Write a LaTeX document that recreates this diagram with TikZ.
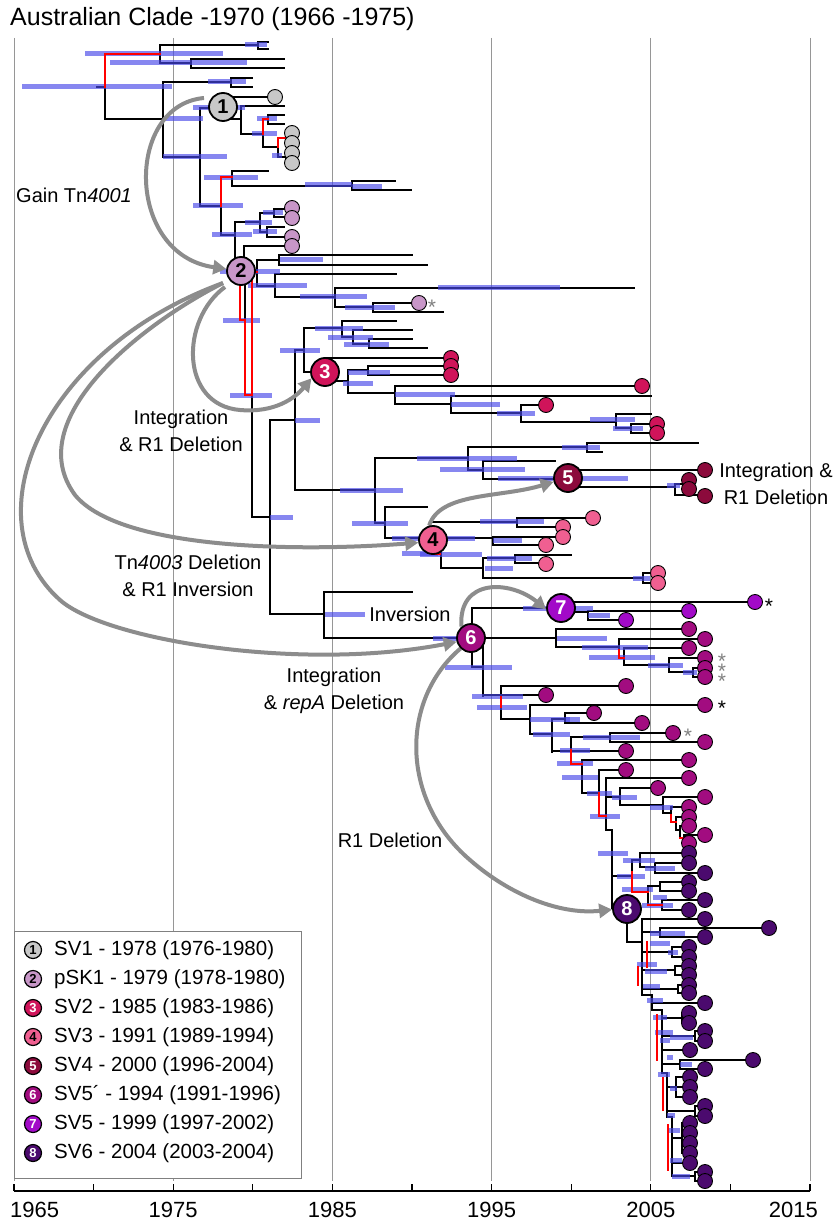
\documentclass[tikz,border=0pt]{standalone}
\usepackage{fontspec}
\setmainfont{Liberation Sans}
\usetikzlibrary{arrows.meta}
\definecolor{hpdblue}{RGB}{71,71,232}
\definecolor{gridgray}{RGB}{150,150,150}
\definecolor{arrgray}{RGB}{140,140,140}
\definecolor{cSVone}{RGB}{200,200,200}
\definecolor{cpSK}{RGB}{200,150,200}
\definecolor{cSVtwo}{RGB}{208,20,90}
\definecolor{cSVthree}{RGB}{240,95,145}
\definecolor{cSVfour}{RGB}{140,10,60}
\definecolor{cSVfivep}{RGB}{162,12,128}
\definecolor{cSVfive}{RGB}{162,10,200}
\definecolor{cSVsix}{RGB}{75,10,110}
\pgfdeclarelayer{grid}\pgfdeclarelayer{tree}\pgfdeclarelayer{arrows}
\pgfsetlayers{grid,tree,arrows,main}
\makeatletter
\def\LinesAcc{}\def\BarsAcc{}\def\RedsAcc{}
\newcommand{\Hb}[3]{\g@addto@macro\LinesAcc{\draw[br] (#1,#3) -- (#2,#3);}}
\newcommand{\Vb}[3]{\g@addto@macro\LinesAcc{\draw[br] (#1,#2) -- (#1,#3);}}
\newcommand{\Hr}[3]{\g@addto@macro\RedsAcc{\draw[rbr] (#1,#3) -- (#2,#3);}}
\newcommand{\Vr}[3]{\g@addto@macro\RedsAcc{\draw[rbr] (#1,#2) -- (#1,#3);}}
\newcommand{\Bb}[3]{\g@addto@macro\BarsAcc{\draw[hpd] (#1,#3) -- (#2,#3);}}
\makeatother
\newcommand{\Lf}[3]{\node[leaf,fill=#3] at (#1,#2) {};}
\newcommand{\Ast}[3]{\node[astk,text=#3] at (#1,#2+10) {*};}
\begin{document}
\begin{tikzpicture}[x=1pt,y=-1pt,
  br/.style={line width=1.8pt, black, line cap=rect},
  rbr/.style={line width=1.8pt, red, line cap=rect},
  hpd/.style={line width=5pt, color=hpdblue, opacity=0.65},
  leaf/.style={circle, draw=black, line width=0.9pt, minimum size=15pt, inner sep=0pt},
  num/.style={circle, draw=black, line width=1.8pt, minimum size=28pt, inner sep=0pt, font=\fontsize{20}{20}\selectfont\bfseries},
  lnum/.style={circle, draw=black, line width=1.2pt, minimum size=17pt, inner sep=0pt, font=\fontsize{13}{13}\selectfont\bfseries},
  arr/.style={draw=arrgray, line width=4pt, -{Triangle[length=13pt,width=14pt]}},
  lbl/.style={font=\fontsize{20}{27}\selectfont, align=center, inner sep=0pt},
  astk/.style={font=\fontsize{21}{21}\selectfont, anchor=base, inner sep=0pt},
  gridln/.style={gridgray, line width=0.9pt},
  legtxt/.style={font=\fontsize{20.5}{24}\selectfont, anchor=west, inner sep=0pt},
  axlbl/.style={font=\fontsize{22}{22}\selectfont, inner sep=0pt}
]
\useasboundingbox (0,0) rectangle (836,1222);
\begin{pgfonlayer}{grid}
\fill[white] (0,0) rectangle (836,1222);
\foreach \k in {0,...,5} \draw[gridln] ({14+159.2*\k},38) -- ({14+159.2*\k},1181);
\end{pgfonlayer}
% title
\node[anchor=west, font=\fontsize{25}{25}\selectfont, inner sep=0pt] (title) at (10,19) {Australian Clade -1970 (1966 -1975)};
% axis
\draw[line width=1.3pt] (14,1191) -- (810,1191);
\foreach \k in {0,...,10} \draw[line width=1.3pt] ({14+79.6*\k},1191) -- ({14+79.6*\k},1184);
\node[axlbl, anchor=west] (ax0) at (10,1210) {1965};
\node[axlbl] (ax1) at (173.2,1210) {1975};
\node[axlbl] (ax2) at (332.4,1210) {1985};
\node[axlbl] (ax3) at (491.6,1210) {1995};
\node[axlbl] (ax4) at (650.8,1210) {2005};
\node[axlbl, anchor=east] (ax5) at (818,1210) {2015};

% ===== TOP =====
\Hb{97}{105}{87}
\Vr{105}{54}{87} \Vb{105}{87}{119}
\Hr{105}{160}{54}
\Vb{160}{45}{63}
\Hb{160}{258}{45} \Vb{258}{42}{49} \Hb{258}{268}{42} \Hb{258}{268}{49}
\Hb{160}{191}{63} \Vb{191}{59}{68} \Hb{191}{284}{59} \Hb{191}{284}{68}
\Hb{105}{163}{119}
\Vb{163}{82}{157}
\Hb{163}{231}{82} \Vb{231}{78}{87} \Hb{231}{252}{78} \Hb{231}{252}{87}
\Hb{163}{200}{157}
\Vb{200}{108}{206}
\Hb{200}{224}{108}
\Vb{224}{97}{119}
\Hb{224}{275}{97}
\Hb{224}{241}{119}
\Vb{241}{106}{134}
\Hb{241}{284}{106}
\Hb{241}{263}{134}
\Vr{263}{119}{134} \Vb{263}{134}{147}
\Hr{263}{268}{119} \Vb{268}{115}{124} \Hb{268}{284}{115} \Hb{268}{284}{124}
\Hb{263}{278}{147}
\Vr{278}{138}{147} \Vb{278}{147}{157}
\Hr{278}{286}{138} \Vb{286}{133}{143} \Hb{286}{292}{133} \Hb{286}{292}{143}
\Hb{278}{286}{157} \Vb{286}{153}{163} \Hb{286}{292}{153} \Hb{286}{292}{163}
\Hb{200}{221}{206}
\Vr{221}{177}{206} \Vb{221}{206}{235}
\Hr{221}{232}{177}
\Vb{232}{171}{186} \Hb{232}{268}{171} \Hb{232}{352}{186}
\Vb{352}{181}{190} \Hb{352}{395}{181} \Hb{352}{411}{190}
\Hb{221}{235}{235}
\Bb{22}{172}{87} \Bb{85}{223}{54} \Bb{110}{247}{63} \Bb{245}{267}{45}
\Bb{165}{203}{119} \Bb{208}{246}{82} \Bb{163}{227}{157} \Bb{193}{245}{108}
\Bb{257}{277}{119} \Bb{252}{277}{134} \Bb{272}{282}{156} \Bb{193}{243}{206}
\Bb{204}{258}{178} \Bb{305}{352}{185} \Bb{352}{382}{187} \Bb{212}{252}{235}

% ===== NODE 2 =====
\Vb{235}{222}{262}
\Hb{235}{260}{222}
\Vb{260}{213}{232}
\Hb{260}{274}{213} \Vb{274}{209}{217} \Hb{274}{292}{209} \Hb{274}{292}{217}
\Hb{260}{267}{232} \Vb{267}{227}{237} \Hb{267}{284}{227} \Hb{267}{292}{237}
\Vb{244}{246}{262} \Hb{244}{292}{246}
\Hb{241}{257}{272}
\Vb{257}{260}{286}
\Hb{257}{279}{260} \Vb{279}{255}{265} \Hb{279}{412}{255} \Hb{279}{427}{265}
\Hb{257}{275}{286} \Vb{275}{274}{297} \Hb{275}{396}{274} \Hb{275}{335}{297}
\Vb{335}{288}{307} \Hb{335}{634}{288} \Hb{335}{373}{307}
\Vb{373}{303}{312} \Hb{373}{419}{303} \Hb{373}{443}{312}
\Vb{245}{284}{320}
\Vr{240}{284}{320} \Hr{240}{245}{320} \Vr{245}{320}{395} \Hr{245}{252}{395} \Vr{252}{272}{395} \Hr{252}{257}{272}
\Vb{252}{395}{517} \Hb{252}{270}{517}
\Bb{263}{283}{213} \Bb{245}{272}{223} \Bb{253}{277}{232} \Bb{280}{323}{260}
\Bb{248}{307}{286} \Bb{220}{280}{272} \Bb{438}{560}{288} \Bb{300}{367}{297}
\Bb{345}{395}{307} \Bb{223}{260}{320} \Bb{230}{272}{395} \Bb{270}{293}{517}

% ===== MIDDLE / NODE 3 =====
\Vb{270}{420}{614} \Hb{270}{295}{420}
\Vb{295}{350}{490} \Hb{295}{304}{350}
\Vb{304}{328}{372} \Hb{304}{342}{328}
\Vb{342}{321}{337} \Hb{342}{396}{321} \Hb{342}{353}{337}
\Vb{353}{330}{344} \Hb{353}{412}{330} \Hb{353}{369}{344}
\Vb{369}{339}{348} \Hb{369}{412}{339} \Hb{369}{427}{348}
\Hb{304}{326}{372}
\Hb{326}{451}{358}
\Hb{326}{348}{381} \Vb{348}{370}{393}
\Hb{348}{368}{370} \Vb{368}{366}{375} \Hb{368}{451}{366} \Hb{368}{451}{375}
\Hb{348}{395}{393} \Vb{395}{386}{404} \Hb{395}{642}{386}
\Hb{395}{451}{404} \Vb{451}{396}{413} \Hb{451}{651}{396}
\Hb{451}{521}{413} \Vb{521}{405}{422} \Hb{521}{546}{405}
\Hb{521}{616}{422} \Vb{616}{414}{428} \Hb{616}{651}{414}
\Hb{616}{631}{428} \Vb{631}{424}{433} \Hb{631}{657}{424} \Hb{631}{657}{433}
\Bb{315}{363}{328} \Bb{328}{373}{337} \Bb{344}{389}{344} \Bb{280}{320}{350}
\Bb{348}{390}{372} \Bb{343}{373}{383} \Bb{395}{455}{394} \Bb{451}{500}{404}
\Bb{497}{535}{413} \Bb{590}{635}{419} \Bb{613}{643}{428} \Bb{295}{320}{420}

% ===== NODE 4 / 5 =====
\Hb{295}{375}{490} \Vb{375}{458}{523}
\Hb{375}{468}{458} \Vb{468}{447}{470}
\Hb{468}{587}{447} \Vb{587}{443}{452} \Hb{587}{698}{443} \Hb{587}{602}{452}
\Hb{468}{483}{470} \Vb{483}{461}{479} \Hb{483}{555}{461} \Hb{483}{568}{479}
\Hb{568}{705}{470}
\Hb{568}{675}{487} \Vb{675}{484}{495} \Hb{675}{683}{484} \Vb{683}{480}{489}
\Hb{683}{689}{480} \Hb{683}{689}{489} \Hb{675}{705}{495}
\Bb{340}{403}{490} \Bb{417}{517}{458} \Bb{562}{600}{447} \Bb{440}{525}{469}
\Bb{498}{553}{478} \Bb{580}{628}{478} \Bb{667}{680}{485}
\Hb{375}{385}{523} \Vb{385}{507}{538} \Hb{385}{427}{507} \Hb{385}{433}{538}
\Hb{433}{517}{522} \Vb{517}{518}{527} \Hb{517}{593}{518} \Hb{517}{563}{527}
\Hb{433}{493}{538} \Vb{493}{537}{545} \Hb{493}{563}{537} \Hb{493}{546}{545}
\Vb{441}{552}{568} \Hb{441}{483}{568} \Vb{483}{558}{578}
\Hb{483}{515}{558} \Vb{515}{555}{563} \Hb{515}{571}{555} \Hb{515}{546}{563}
\Hb{483}{643}{578} \Vb{643}{573}{583} \Hb{643}{658}{573} \Hb{643}{658}{583}
\Hr{432}{440}{554}
\Bb{352}{408}{523} \Bb{392}{423}{538} \Bb{402}{438}{553}
\Bb{480}{544}{521} \Bb{447}{475}{538} \Bb{493}{522}{540} \Bb{420}{482}{554}
\Bb{487}{532}{558} \Bb{485}{513}{568} \Bb{633}{650}{578}

% ===== NODE 6 / 7 =====
\Hb{270}{324}{614} \Vb{324}{592}{638} \Hb{324}{412}{592} \Hb{324}{472}{638}
\Vb{472}{608}{667} \Hb{472}{561}{608}
\Hb{561}{755}{602} \Hb{561}{588}{612} \Vb{588}{611}{620} \Hb{588}{689}{611} \Hb{588}{626}{620}
\Hb{472}{483}{667} \Vb{483}{638}{696} \Hb{483}{556}{638}
\Vb{556}{629}{647} \Hb{556}{689}{629} \Hb{556}{619}{647}
\Vb{619}{639}{650} \Vr{619}{650}{658} \Hb{619}{705}{639} \Hr{619}{624}{658}
\Vb{624}{648}{665} \Hb{624}{689}{648} \Hb{624}{669}{665}
\Vb{669}{658}{672} \Hb{669}{705}{658} \Hb{669}{693}{672}
\Vb{693}{668}{677} \Hb{693}{705}{668} \Hb{693}{705}{677}
\Bb{325}{365}{614} \Bb{433}{457}{638} \Bb{445}{512}{667} \Bb{523}{547}{608}
\Bb{573}{593}{608} \Bb{588}{610}{615} \Bb{557}{607}{638} \Bb{582}{648}{647}
\Bb{589}{655}{657} \Bb{648}{683}{665} \Bb{683}{697}{672}

% ===== SV5' lower ladder =====
\Hb{483}{546}{695}
\Vb{501}{686}{697} \Vr{501}{697}{707} \Vb{501}{707}{719}
\Hb{501}{626}{686} \Hb{501}{530}{719}
\Vb{530}{705}{734} \Hb{530}{705}{705} \Hb{530}{552}{734}
\Vb{552}{719}{752} \Hb{552}{565}{719} \Vb{565}{713}{723} \Hb{565}{594}{713} \Hb{565}{642}{723}
\Hb{552}{626}{751}
\Vb{571}{737}{750} \Vr{571}{750}{764}
\Hb{571}{610}{737} \Vb{610}{733}{742} \Hb{610}{673}{733} \Hb{610}{705}{742}
\Hr{571}{582}{764} \Vb{582}{760}{793} \Hb{582}{689}{760} \Hb{582}{599}{793}
\Vb{599}{770}{793} \Vr{599}{793}{816} \Hb{599}{626}{770} \Hr{599}{606}{816}
\Vb{606}{778}{830} \Hb{606}{689}{778} \Hb{606}{620}{797} \Hb{606}{612}{830}
\Vb{620}{788}{805} \Hb{620}{658}{788} \Hb{620}{663}{805}
\Vb{663}{797}{813} \Hb{663}{705}{797} \Hb{663}{671}{813}
\Vb{671}{807}{815} \Vr{671}{815}{822} \Hb{671}{689}{807} \Hr{671}{676}{822}
\Vb{676}{817}{830} \Hb{676}{689}{817} \Hb{676}{680}{830}
\Vb{680}{826}{838} \Hb{680}{689}{826} \Hr{680}{684}{838}
\Vb{684}{835}{843} \Hb{684}{705}{835} \Hb{684}{689}{843}
\Bb{472}{523}{696} \Bb{477}{527}{707} \Bb{530}{570}{719} \Bb{533}{570}{734}
\Bb{566}{580}{719} \Bb{583}{640}{737} \Bb{557}{593}{763} \Bb{562}{598}{777}
\Bb{587}{612}{793} \Bb{612}{637}{797} \Bb{590}{620}{816} \Bb{650}{673}{807} \Bb{560}{590}{750}

% ===== SV6 upper =====
\Vb{612}{830}{908} \Hb{612}{627}{908}
\Hb{612}{632}{876}
\Vb{632}{860}{872} \Vr{632}{872}{892}
\Hb{632}{640}{860} \Vb{640}{853}{867} \Hb{640}{689}{853} \Hb{640}{655}{867}
\Vb{655}{863}{873} \Hb{655}{689}{863} \Hb{655}{705}{873}
\Hr{632}{648}{892} \Vb{648}{886}{905} \Hb{648}{660}{886}
\Vb{660}{882}{891} \Hb{660}{689}{882} \Hb{660}{689}{891}
\Hr{648}{662}{905} \Vb{662}{900}{910} \Hb{662}{705}{900} \Hb{662}{689}{910}
\Bb{598}{628}{853} \Bb{623}{655}{860} \Bb{645}{675}{868} \Bb{617}{645}{876}
\Bb{622}{653}{889} \Bb{653}{667}{897} \Bb{642}{673}{905}

% ===== SV6 lower =====
\Vb{627}{922}{942} \Hb{627}{642}{942}
\Vb{642}{919}{995}
\Hb{642}{705}{919}
\Hb{642}{660}{932} \Vb{660}{928}{937} \Hb{660}{769}{928} \Hb{660}{705}{937}
\Hb{642}{672}{952} \Vb{672}{947}{957} \Hb{672}{689}{947} \Hb{672}{689}{957}
\Hb{642}{675}{970} \Vb{675}{966}{975} \Hb{675}{689}{966} \Hb{675}{689}{975}
\Hb{642}{678}{989} \Vb{678}{985}{993} \Hb{678}{689}{985} \Hb{678}{689}{993}
\Hb{642}{652}{995} \Vb{652}{995}{1010} \Hb{652}{705}{1003} \Hb{652}{662}{1010}
\Vb{662}{1010}{1073}
\Hb{662}{682}{1018} \Vb{682}{1013}{1023} \Hb{682}{689}{1013} \Hb{682}{689}{1023}
\Hb{662}{695}{1036} \Vb{695}{1031}{1041} \Hb{695}{705}{1031} \Hb{695}{705}{1041}
\Hb{662}{690}{1050}
\Hb{662}{680}{1064} \Vb{680}{1060}{1069} \Hb{680}{753}{1060} \Hb{680}{705}{1069}
\Hb{662}{667}{1073} \Vb{667}{1073}{1117}
\Hb{667}{676}{1087} \Vb{676}{1077}{1097} \Hb{676}{690}{1077} \Hb{676}{690}{1087} \Hb{676}{690}{1097}
\Hb{667}{695}{1111} \Vb{695}{1106}{1116} \Hb{695}{705}{1106} \Hb{695}{705}{1116}
\Hb{667}{672}{1117} \Vb{672}{1117}{1176}
\Hb{672}{682}{1138} \Vb{682}{1123}{1153}
\Hb{682}{690}{1123} \Hb{682}{690}{1133} \Hb{682}{690}{1143} \Hb{682}{690}{1153}
\Hb{672}{690}{1163}
\Hb{672}{695}{1176} \Vb{695}{1172}{1181} \Hb{695}{705}{1172} \Hb{695}{705}{1181}
\Vr{647}{942}{967} \Vr{638}{967}{985} \Vr{657}{1015}{1060} \Vr{663}{1078}{1110} \Vr{668}{1125}{1170}
\Bb{650}{685}{933} \Bb{650}{670}{943} \Bb{668}{678}{952} \Bb{637}{657}{964}
\Bb{645}{667}{971} \Bb{643}{660}{986} \Bb{647}{663}{1000} \Bb{653}{667}{1017}
\Bb{655}{673}{1032} \Bb{670}{693}{1037} \Bb{660}{670}{1040} \Bb{667}{673}{1057}
\Bb{680}{692}{1064} \Bb{658}{670}{1074} \Bb{670}{677}{1088} \Bb{667}{675}{1115}
\Bb{668}{680}{1130} \Bb{670}{682}{1160} \Bb{672}{690}{1176}

% draw the accumulated tree
\begin{pgfonlayer}{tree}
\LinesAcc
\BarsAcc
\RedsAcc
\end{pgfonlayer}

% ===== leaves =====
\Lf{275}{97}{cSVone}
\Lf{292}{133}{cSVone} \Lf{292}{143}{cSVone} \Lf{292}{153}{cSVone} \Lf{292}{163}{cSVone}
\Lf{292}{208}{cpSK} \Lf{292}{218}{cpSK} \Lf{292}{237}{cpSK} \Lf{292}{246}{cpSK}
\Lf{419}{303}{cpSK} \Ast{432}{304}{gray}
\Lf{451}{358}{cSVtwo} \Lf{451}{366}{cSVtwo} \Lf{451}{375}{cSVtwo}
\Lf{642}{386}{cSVtwo} \Lf{546}{405}{cSVtwo} \Lf{657}{424}{cSVtwo} \Lf{657}{433}{cSVtwo}
\Lf{705}{470}{cSVfour} \Lf{689}{480}{cSVfour} \Lf{689}{489}{cSVfour} \Lf{705}{496}{cSVfour}
\Lf{593}{518}{cSVthree} \Lf{563}{527}{cSVthree} \Lf{563}{537}{cSVthree} \Lf{546}{545}{cSVthree}
\Lf{546}{564}{cSVthree} \Lf{658}{573}{cSVthree} \Lf{658}{583}{cSVthree}
\Lf{755}{602}{cSVfive} \Lf{689}{611}{cSVfive} \Lf{626}{620}{cSVfive}
\Ast{769}{603}{black}
\Lf{689}{629}{cSVfivep} \Lf{705}{639}{cSVfivep} \Lf{689}{648}{cSVfivep}
\Lf{705}{658}{cSVfivep} \Lf{705}{668}{cSVfivep} \Lf{705}{677}{cSVfivep}
\Ast{722}{658}{gray} \Ast{722}{668}{gray} \Ast{722}{678}{gray}
\Lf{626}{686}{cSVfivep} \Lf{546}{695}{cSVfivep} \Lf{705}{705}{cSVfivep} \Ast{722}{705}{black}
\Lf{594}{713}{cSVfivep} \Lf{642}{723}{cSVfivep} \Lf{673}{733}{cSVfivep} \Ast{688}{733}{gray}
\Lf{705}{742}{cSVfivep} \Lf{626}{751}{cSVfivep} \Lf{689}{760}{cSVfivep} \Lf{626}{770}{cSVfivep}
\Lf{689}{778}{cSVfivep} \Lf{658}{788}{cSVfivep} \Lf{705}{797}{cSVfivep}
\Lf{689}{807}{cSVfivep} \Lf{689}{817}{cSVfivep} \Lf{689}{826}{cSVfivep}
\Lf{705}{835}{cSVfivep} \Lf{689}{843}{cSVfivep}
\Lf{689}{853}{cSVsix} \Lf{689}{863}{cSVsix} \Lf{705}{873}{cSVsix} \Lf{689}{882}{cSVsix}
\Lf{689}{891}{cSVsix} \Lf{705}{900}{cSVsix} \Lf{689}{910}{cSVsix}
\Lf{705}{919}{cSVsix} \Lf{769}{928}{cSVsix} \Lf{705}{937}{cSVsix}
\Lf{689}{947}{cSVsix} \Lf{689}{957}{cSVsix} \Lf{689}{966}{cSVsix} \Lf{689}{975}{cSVsix}
\Lf{689}{985}{cSVsix} \Lf{689}{993}{cSVsix} \Lf{705}{1003}{cSVsix}
\Lf{689}{1013}{cSVsix} \Lf{689}{1023}{cSVsix} \Lf{705}{1031}{cSVsix} \Lf{705}{1041}{cSVsix}
\Lf{690}{1050}{cSVsix} \Lf{753}{1060}{cSVsix} \Lf{705}{1069}{cSVsix}
\Lf{690}{1077}{cSVsix} \Lf{690}{1087}{cSVsix} \Lf{690}{1097}{cSVsix}
\Lf{705}{1106}{cSVsix} \Lf{705}{1116}{cSVsix}
\Lf{690}{1123}{cSVsix} \Lf{690}{1133}{cSVsix} \Lf{690}{1143}{cSVsix} \Lf{690}{1153}{cSVsix}
\Lf{690}{1163}{cSVsix} \Lf{705}{1172}{cSVsix} \Lf{705}{1181}{cSVsix}

% ===== numbered nodes =====
\node[num, fill=cSVone] (n1) at (223,107) {1};
\node[num, fill=cpSK] (n2) at (241,271) {2};
\node[num, fill=cSVtwo, text=white] (n3) at (325,372) {3};
\node[num, fill=cSVthree] (n4) at (433,540) {4};
\node[num, fill=cSVfour, text=white] (n5) at (568,478) {5};
\node[num, fill=cSVfivep, text=white] (n6) at (471,638) {6};
\node[num, fill=cSVfive, text=white] (n7) at (561,608) {7};
\node[num, fill=cSVsix, text=white] (n8) at (627,909) {8};

% ===== arrows =====
\coordinate (a1s) at (204,98);
\coordinate (a2s) at (225,287);
\coordinate (a3s) at (223,283);
\coordinate (a4s) at (223,283);
\begin{pgfonlayer}{arrows}
\draw[arr] (a1s) .. controls (125,105) and (125,255) .. (n2.172);
\draw[arr] (a2s) .. controls (180,320) and (180,405) .. (240,410) .. controls (275,413) and (295,398) .. (n3.205);
\draw[arr] (a3s) .. controls (140,325) and (20,420) .. (75,495) .. controls (120,550) and (300,552) .. (n4.190);
\draw[arr] (a4s) .. controls (40,350) and (-30,520) .. (60,600) .. controls (105,640) and (300,672) .. (n6.195);
\draw[arr] (n4.105) .. controls (440,492) and (500,498) .. (n5.195);
\draw[arr] (n6.130) .. controls (458,578) and (510,580) .. (n7.185);
\draw[arr] (n6.225) .. controls (400,700) and (400,800) .. (470,860) .. controls (510,895) and (560,915) .. (n8.182);
\end{pgfonlayer}

% ===== labels =====
\node[lbl, anchor=west] (gain) at (16,195) {Gain Tn\textit{4001}};
\node[lbl] (intdel) at (181,431) {Integration\\\& R1 Deletion};
\node[lbl] (tndel) at (188,576) {Tn\textit{4003} Deletion\\\& R1 Inversion};
\node[lbl] (inv) at (410,614) {Inversion};
\node[lbl] (repa) at (334,691) {Integration\\\& \textit{repA} Deletion};
\node[lbl] (rdel) at (390,840) {R1 Deletion};
\node[lbl] (intr) at (776,484) {Integration \&\\R1 Deletion};

% ===== legend =====
\draw[draw=gray, line width=1pt, fill=white] (14,931) rectangle (301,1178);
\foreach \lab/\col/\tc/\txt [count=\i from 0] in {
  1/cSVone/black/{SV1 - 1978 (1976-1980)},
  2/cpSK/black/{pSK1 - 1979 (1978-1980)},
  3/cSVtwo/white/{SV2 - 1985 (1983-1986)},
  4/cSVthree/black/{SV3 - 1991 (1989-1994)},
  5/cSVfour/white/{SV4 - 2000 (1996-2004)},
  6/cSVfivep/white/{SV5´ - 1994 (1991-1996)},
  7/cSVfive/white/{SV5 - 1999 (1997-2002)},
  8/cSVsix/white/{SV6 - 2004 (2003-2004)}} {
  \node[lnum, fill=\col, text=\tc] (lg\lab) at (33,{950+29*\i}) {\lab};
  \node[legtxt] (lt\lab) at (54,{950+29*\i}) {\txt};
}
\end{tikzpicture}
\end{document}
